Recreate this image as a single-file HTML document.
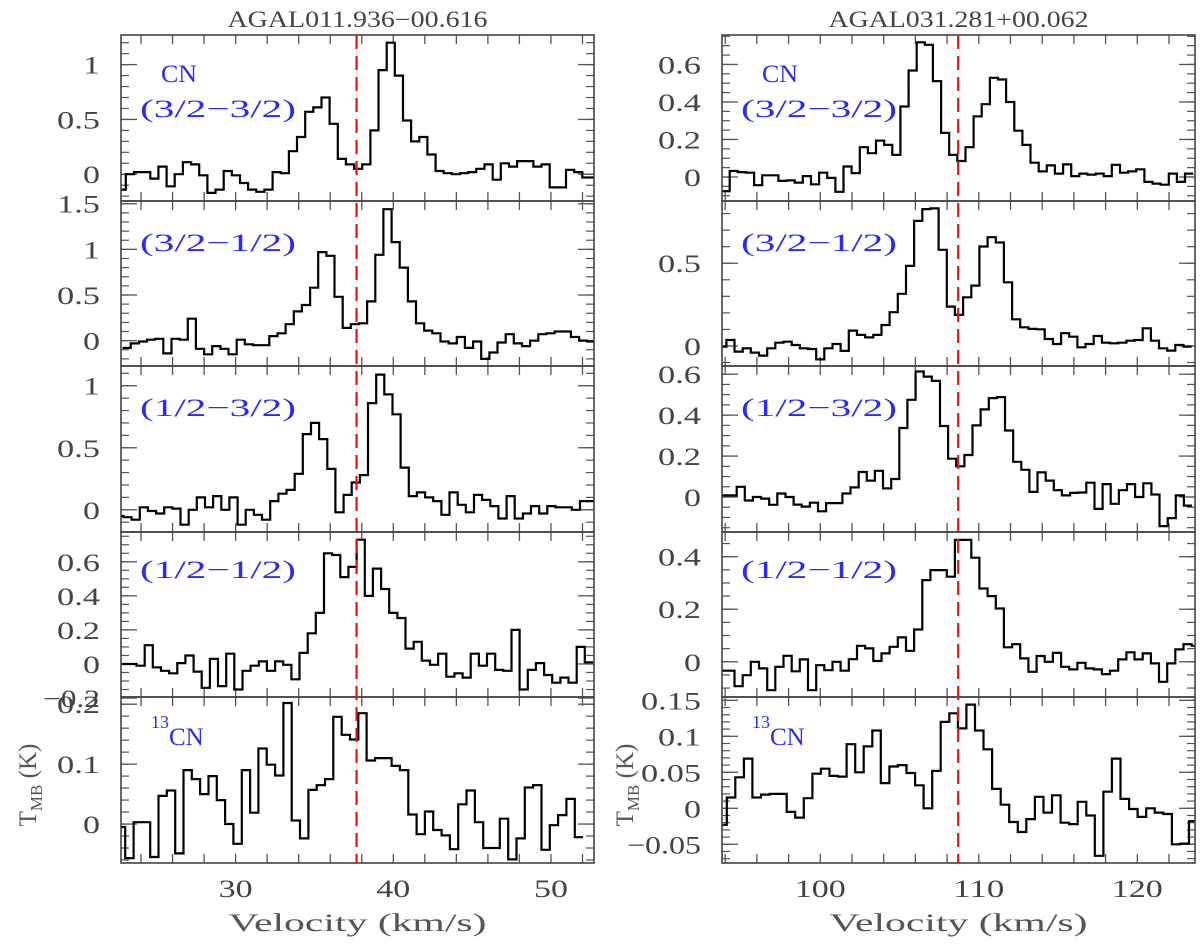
<!DOCTYPE html>
<html><head><meta charset="utf-8">
<style>
html,body{margin:0;padding:0;background:#fff;}
svg{display:block;}
text{font-family:"Liberation Serif","DejaVu Serif",serif;}
</style></head>
<body>
<svg id="chart" width="1200" height="945" viewBox="0 0 1200 945" xmlns="http://www.w3.org/2000/svg"></svg>
<script>
// ---------- data: velocity axis per column ----------
const leftXTicks = [30, 40, 50];
const rightXTicks = [100, 110, 120];
const leftVsys = 37.67;
const rightVsys = 108.7;
const leftTitle = "AGAL011.936\u221200.616";
const rightTitle = "AGAL031.281+00.062";

// ---------- left source spectra (K) ----------
const leftCN3232 = [-0.14,0,0.02,0.02,-0.04,0.07,-0.11,0,0.11,0.09,-0.01,-0.17,-0.14,0.03,-0.01,-0.08,-0.14,-0.16,-0.14,0.02,0.01,0.21,0.34,0.57,0.61,0.70,0.46,0.14,0.09,0.05,0.09,0.40,0.95,1.20,0.90,0.49,0.30,0.34,0.18,0.03,0.01,0,0.01,0.02,0.05,0.09,-0.05,0.10,0.07,0.12,0.12,0.07,0.09,-0.12,-0.12,0.04,0.02,-0.03,-0.03];
const leftCN3212 = [-0.08,-0.03,-0.01,0.01,0.02,-0.14,0.02,0.01,0.24,-0.09,-0.15,-0.06,-0.09,-0.15,0.01,-0.04,-0.05,-0.05,0.05,0.08,0.18,0.32,0.39,0.58,0.97,0.93,0.48,0.14,0.18,0.19,0.43,0.94,1.44,1.08,0.80,0.43,0.19,0.11,0.08,-0.01,-0.03,0.04,-0.08,-0.01,-0.20,-0.13,-0.02,0.07,-0.03,-0.06,0.00,0.07,0.08,0.10,0.10,0.04,0.00,-0.01];
const leftCN1232 = [-0.05,-0.06,-0.08,0.02,-0.01,-0.03,0.02,0.01,-0.12,0.00,0.10,0.02,0.11,0.00,0.10,-0.12,0.00,-0.04,-0.08,0.07,0.13,0.16,0.29,0.61,0.70,0.57,0.33,-0.02,0.12,0.22,0.28,0.86,1.09,0.93,0.77,0.34,0.11,0.14,0.10,0.07,-0.04,0.14,0.04,-0.02,0.12,0.08,0.03,-0.07,0.11,-0.07,-0.03,0.03,-0.03,0.03,0.02,0.02,0.00,0.07,0.07];
const leftCN1212 = [0,0,-0.01,0.11,-0.02,-0.04,-0.055,0.005,0.05,-0.045,-0.14,0.03,-0.13,0.06,-0.15,-0.04,-0.01,0.015,-0.04,0.015,-0.005,-0.09,0.065,0.18,0.30,0.65,0.64,0.51,0.57,0.73,0.40,0.56,0.44,0.30,0.27,0.09,0.13,0.02,-0.005,0.06,-0.075,-0.055,-0.08,0.06,-0.01,0.06,-0.035,-0.04,0.20,-0.15,-0.035,0.005,-0.065,-0.11,-0.08,-0.11,0.10,0.01];
const left13CN = [-0.005,-0.057,0.003,0.003,-0.055,0.047,0.056,-0.049,0.09,0.075,0.05,0.08,0.04,0.0,-0.033,0.09,0.019,0.126,0.099,0.081,0.202,0.006,-0.024,0.057,0.065,0.075,0.179,0.149,0.141,0.185,0.106,0.11,0.11,0.097,0.09,0.016,-0.017,0.021,-0.01,-0.019,-0.042,0.033,0.056,0.003,-0.04,-0.04,0.009,-0.059,-0.024,0.061,0.065,-0.043,-0.002,0.015,0.042,-0.022];

// ---------- right source spectra (K) ----------
const rightCN3232 = [-0.076,0.032,0.026,0.023,-0.044,0.009,0.009,-0.021,-0.018,-0.030,0.005,-0.039,0.023,-0.005,-0.079,0.056,0.021,0.159,0.127,0.194,0.171,0.118,0.376,0.568,0.718,0.705,0.511,0.235,0.118,0.085,0.159,0.323,0.388,0.529,0.520,0.400,0.247,0.171,0.076,0.030,0.062,0.018,0.067,0.005,0.018,0.012,0.018,0.005,0.065,0.023,0.030,0.041,-0.026,-0.035,-0.041,0.018,-0.026,0.018];
const rightCN3212 = [-0.004,0.036,-0.034,-0.014,-0.040,-0.058,-0.014,0.020,0.026,0.006,-0.014,-0.018,-0.081,-0.014,0.012,-0.030,0.093,0.067,0.052,0.067,0.127,0.204,0.315,0.484,0.756,0.827,0.831,0.581,0.238,0.188,0.294,0.365,0.601,0.657,0.625,0.385,0.161,0.113,0.103,0.101,0.042,0.012,0.077,0.056,-0.008,0.012,0.060,0.020,0.016,0.020,0.032,0.036,0.107,0.032,-0.014,-0.028,0.006,-0.004];
const rightCN1232 = [0.008,0.008,0.050,-0.017,0.000,-0.008,-0.038,0.017,0.000,-0.037,-0.047,-0.028,-0.070,-0.030,-0.030,0.017,0.047,0.122,0.080,0.128,0.042,0.088,0.337,0.475,0.613,0.588,0.567,0.347,0.187,0.150,0.205,0.350,0.428,0.483,0.488,0.325,0.172,0.133,0.025,0.120,0.080,0.033,0.008,0.020,0.022,0.070,-0.058,0.063,-0.033,0.033,0.063,0.000,0.067,0.012,-0.142,-0.103,0.008,-0.042];
const rightCN1212 = [-0.034,-0.034,-0.093,-0.051,0.000,-0.025,-0.108,-0.019,0.023,-0.036,0.009,-0.108,-0.013,-0.032,0.000,-0.034,0.010,0.061,0.051,0.003,0.032,0.057,0.093,0.042,0.123,0.311,0.349,0.349,0.324,0.464,0.464,0.396,0.279,0.250,0.203,0.055,0.067,0.013,-0.038,0.022,0.000,0.034,-0.019,-0.029,-0.004,-0.025,-0.029,-0.047,-0.034,0.009,0.036,0.009,0.032,-0.006,-0.076,-0.006,0.047,0.067,0.061];
const right13CN = [-0.023,0.015,0.043,0.069,0.015,0.019,0.020,0.020,-0.005,-0.013,0.014,0.048,0.055,0.045,0.044,0.089,0.050,0.086,0.108,0.035,0.058,0.060,0.049,0.032,0.000,0.052,0.120,0.132,0.111,0.144,0.108,0.082,0.027,0.005,-0.019,-0.033,-0.015,0.016,-0.006,0.018,-0.020,-0.022,0.009,-0.010,-0.066,0.023,0.069,0.013,-0.001,-0.012,0.000,-0.006,-0.008,-0.050,-0.049,-0.018];

// y tick labels per panel
const leftTicks = [[0,0.5,1],[0,0.5,1,1.5],[0,0.5,1],[-0.2,0,0.2,0.4,0.6],[0,0.1,0.2]];
const rightTicks = [[0,0.2,0.4,0.6],[0,0.5],[0,0.2,0.4,0.6],[0,0.2,0.4],[-0.05,0,0.05,0.1,0.15]];
const transitionLabels = ["(3/2\u22123/2)","(3/2\u22121/2)","(1/2\u22123/2)","(1/2\u22121/2)",""];

// ---------- layout ----------
const NS = "http://www.w3.org/2000/svg";
const svg = document.getElementById("chart");
const rowEdges = [35,201,366,532,697,863];
const columns = [
  {key:"left", x0:121, x1:594, vmin:22.73, vmax:52.73, xticks:leftXTicks, vsys:leftVsys, title:leftTitle, yt:leftTicks, ytx:36,
   panels:[
    {name:"cn-3-2-3-2", data:leftCN3232, v0:22.52, dv:0.517, ymin:-0.244, ymax:1.27, minor:0.1},
    {name:"cn-3-2-1-2", data:leftCN3212, v0:22.83, dv:0.517, ymin:-0.278, ymax:1.53, minor:0.1},
    {name:"cn-1-2-3-2", data:leftCN1232, v0:22.37, dv:0.517, ymin:-0.179, ymax:1.159, minor:0.1},
    {name:"cn-1-2-1-2", data:leftCN1212, v0:22.68, dv:0.517, ymin:-0.194, ymax:0.775, minor:0.05},
    {name:"13cn", data:left13CN, v0:22.47, dv:0.528, ymin:-0.065, ymax:0.212, minor:0.02}]},
  {key:"right", x0:722, x1:1195, vmin:93.8, vmax:123.64, xticks:rightXTicks, vsys:rightVsys, title:rightTitle, yt:rightTicks, ytx:633,
   panels:[
    {name:"cn-3-2-3-2", data:rightCN3232, v0:93.77, dv:0.513, ymin:-0.128, ymax:0.757, minor:0.05},
    {name:"cn-3-2-1-2", data:rightCN3212, v0:93.56, dv:0.515, ymin:-0.121, ymax:0.876, minor:0.1},
    {name:"cn-1-2-3-2", data:rightCN1232, v0:93.7, dv:0.513, ymin:-0.171, ymax:0.64, minor:0.05},
    {name:"cn-1-2-1-2", data:rightCN1212, v0:93.56, dv:0.515, ymin:-0.134, ymax:0.494, minor:0.05},
    {name:"13cn", data:right13CN, v0:93.56, dv:0.54, ymin:-0.076, ymax:0.1546, minor:0.01}]}
];

function mk(tag, attrs, parent){
  const e = document.createElementNS(NS, tag);
  for (const k in attrs) e.setAttribute(k, attrs[k]);
  (parent||svg).appendChild(e);
  return e;
}
function fmt(v){
  let s = (Math.round(v*1000)/1000).toString();
  if (s.startsWith("-")) s = "\u2212" + s.slice(1);
  return s;
}
function labelLen(s){
  let L = 0;
  for (const c of s){ L += (c === "." ? 9 : (c === "\u2212" ? 14 : 17)); }
  return L;
}

const defs = mk("defs", {});
columns.forEach((col, ci) => {
  const g = mk("g", {});
  
  
  const xs = v => col.x0 + (v - col.vmin) / (col.vmax - col.vmin) * (col.x1 - col.x0);

  const title = mk("text", {x:(col.x0+col.x1)/2, y:27, "text-anchor":"middle", "font-size":23, fill:"#444", textLength:260, lengthAdjust:"spacingAndGlyphs"}, g);
  title.textContent = col.title;
  
  

  col.panels.forEach((p, pi) => {
    const top = rowEdges[pi], bot = rowEdges[pi+1];
    const ys = v => bot - (v - p.ymin) / (p.ymax - p.ymin) * (bot - top);
    const pg = mk("g", {}, g);
    
    

    const cid = "clip-" + ci + "-" + pi;
    const cp = mk("clipPath", {id:cid}, defs);
    mk("rect", {x:col.x0, y:top, width:col.x1-col.x0, height:bot-top}, cp);

    const tstart = Math.ceil(col.vmin/2)*2;
    for (let v = tstart; v <= col.vmax; v += 2){
      const x = xs(v);
      mk("line", {x1:x, x2:x, y1:top, y2:top+9, stroke:"#555", "stroke-width":1.3}, pg);
      mk("line", {x1:x, x2:x, y1:bot, y2:bot-9, stroke:"#555", "stroke-width":1.3}, pg);
    }
    const m0 = Math.ceil(p.ymin/p.minor - 1e-6);
    for (let k = m0; k*p.minor <= p.ymax + 1e-9; k++){
      const y = ys(k*p.minor);
      if (y < top+1 || y > bot-1) continue;
      mk("line", {x1:col.x0, x2:col.x0+8, y1:y, y2:y, stroke:"#555", "stroke-width":1.2}, pg);
      mk("line", {x1:col.x1, x2:col.x1-8, y1:y, y2:y, stroke:"#555", "stroke-width":1.2}, pg);
    }
    col.yt[pi].forEach(t => {
      const y = ys(t);
      mk("line", {x1:col.x0, x2:col.x0+16, y1:y, y2:y, stroke:"#555", "stroke-width":1.3}, pg);
      mk("line", {x1:col.x1, x2:col.x1-16, y1:y, y2:y, stroke:"#555", "stroke-width":1.3}, pg);
      const s = fmt(t);
      const tl = mk("text", {x:col.x0-21, y:y+9, "text-anchor":"end", "font-size":25, fill:"#444", textLength:labelLen(s), lengthAdjust:"spacingAndGlyphs"}, pg);
      tl.textContent = s;
      
      
    });

    let d = "";
    p.data.forEach((val, i) => {
      const xa = xs(p.v0 + i*p.dv), xb = xs(p.v0 + (i+1)*p.dv), y = ys(val);
      d += (i === 0 ? "M" + xa.toFixed(1) + " " + y.toFixed(1) : "V" + y.toFixed(1)) + "H" + xb.toFixed(1);
    });
    const path = mk("path", {d:d, fill:"none", stroke:"#000", "stroke-width":2.2, "clip-path":"url(#"+cid+")"}, pg);
    
    

    mk("rect", {x:col.x0, y:top, width:col.x1-col.x0, height:bot-top, fill:"none", stroke:"#444", "stroke-width":1.6}, pg);

    const lx = col.x0 + 19;
    if (pi === 0){
      const cn = mk("text", {x:col.x0+40, y:82, "font-size":25, fill:"#2b2bf5", textLength:36, lengthAdjust:"spacingAndGlyphs"}, pg);
      cn.textContent = "CN";
      
      
    }
    if (pi < 4){
      const ty = [117, 251, 416, 578][pi];
      const tl = mk("text", {x:lx, y:ty, "font-size":25, fill:"#2b2bf5", textLength:156, lengthAdjust:"spacingAndGlyphs"}, pg);
      tl.textContent = transitionLabels[pi];
      
      
    } else {
      const t = mk("text", {x:col.x0+30, y:745, "font-size":25, fill:"#2b2bf5"}, pg);
      const sup = mk("tspan", {"font-size":18, dy:-17}, t);
      sup.textContent = "13";
      const cnt = mk("tspan", {dy:17}, t);
      cnt.textContent = "CN";
      
      
    }
  });

  const dl = mk("line", {x1:xs(col.vsys), x2:xs(col.vsys), y1:rowEdges[0], y2:rowEdges[5], stroke:"#ee1111", "stroke-width":2.2, "stroke-dasharray":"14 7"}, g);
  
  

  col.xticks.forEach(v => {
    const t = mk("text", {x:xs(v), y:897, "text-anchor":"middle", "font-size":25, fill:"#444", textLength:labelLen(String(v)), lengthAdjust:"spacingAndGlyphs"}, g);
    t.textContent = String(v);
    
    
  });
  const xt = mk("text", {x:(col.x0+col.x1)/2, y:931, "text-anchor":"middle", "font-size":25, fill:"#555", textLength:258, lengthAdjust:"spacingAndGlyphs"}, g);
  xt.textContent = "Velocity (km/s)";
  
  
  const yx = col.ytx, yy = 785;
  const yt = mk("text", {x:yx, y:yy, "text-anchor":"middle", "font-size":25, fill:"#555", transform:"rotate(-90 "+yx+" "+yy+")"}, g);
  const tT = mk("tspan", {}, yt); tT.textContent = "T";
  const tMB = mk("tspan", {"font-size":17, dy:6}, yt); tMB.textContent = "MB";
  const tK = mk("tspan", {dy:-6}, yt); tK.textContent = " (K)";
  
  
});
</script>
</body></html>
